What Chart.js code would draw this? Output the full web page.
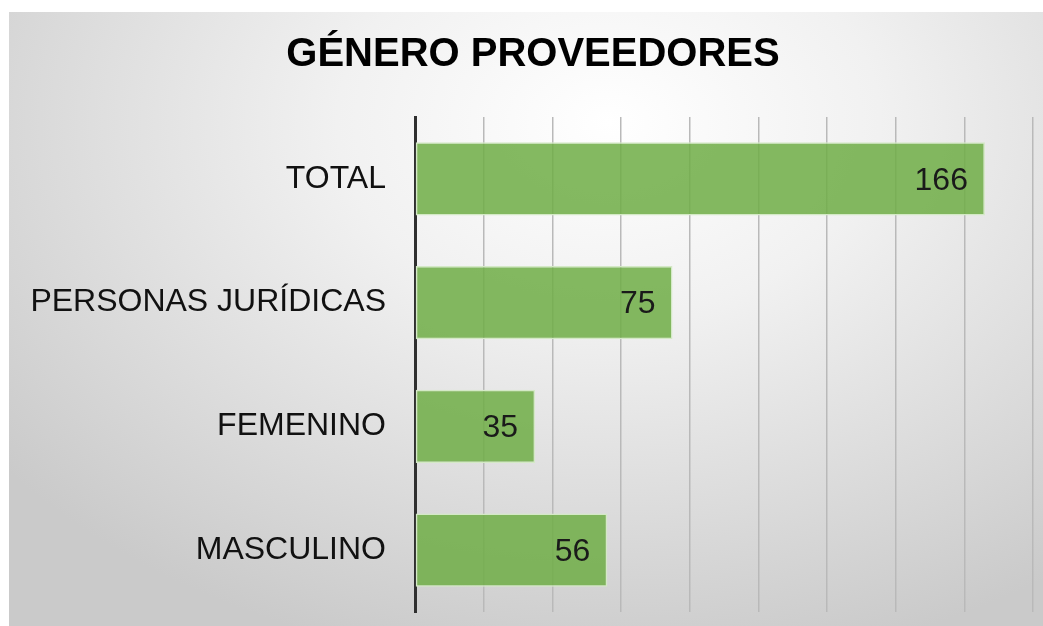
<!DOCTYPE html>
<html>
<head>
<meta charset="utf-8">
<script src="https://cdn.jsdelivr.net/npm/chart.js@4/dist/chart.umd.min.js"></script>
<style>
  html, body { margin: 0; padding: 0; background: #fff; }
  #wrap {
    position: absolute; left: 9px; top: 12px; width: 1034px; height: 614px;
    background: radial-gradient(ellipse 75% 90% at 58% 18%, #ffffff 0%, #f1f1f1 35%, #dcdcdc 70%, #cacaca 100%);
  }
</style>
</head>
<body>
<div id="wrap"><canvas id="chart" width="1034" height="614"></canvas></div>
<script>
/* Género proveedores – horizontal bar */

const TITLE = "GÉNERO PROVEEDORES";
const categories = ["TOTAL", "PERSONAS JURÍDICAS", "FEMENINO", "MASCULINO"];
const values = [166, 75, 35, 56];
const axisMax = 180;
const axisStep = 20;

const FONT = "'Liberation Sans', Arial, sans-serif";

// value labels drawn inside the bar end
const valueLabels = {
  id: "valueLabels",
  afterDatasetsDraw(chart) {
    const ctx = chart.ctx;
    const meta = chart.getDatasetMeta(0);
    ctx.save();
    ctx.font = "32px " + FONT;
    ctx.fillStyle = "#1a1a1a";
    ctx.textAlign = "right";
    ctx.textBaseline = "middle";
    meta.data.forEach((bar, i) => {
      ctx.fillText(String(values[i]), bar.x - 17, bar.y + 2);
    });
    ctx.restore();
  }
};

new Chart(document.getElementById("chart"), {
  type: "bar",
  data: {
    labels: categories,
    datasets: [{
      data: values,
      backgroundColor: "rgba(112,173,71,0.86)",
      borderColor: "#d4e9c6",
      borderWidth: 1.5,
      borderSkipped: false,
      categoryPercentage: 1,
      barPercentage: 0.59
    }]
  },
  options: {
    indexAxis: "y",
    responsive: false,
    animation: false,
    layout: { padding: { left: 24, right: 10, top: 0, bottom: 14 } },
    plugins: {
      legend: { display: false },
      tooltip: { enabled: false },
      title: {
        display: true,
        text: TITLE,
        color: "#000",
        font: { family: FONT, size: 40, weight: "bold" },
        padding: { top: 19, bottom: 38 }
      }
    },
    scales: {
      x: {
        min: 0,
        max: axisMax,
        ticks: { display: false, stepSize: axisStep },
        grid: { color: "#b9b9b9", lineWidth: 1.5, drawTicks: false, tickLength: 0 },
        border: { display: false },
        afterFit(scale) { scale.height = 0; }
      },
      y: {
        ticks: { color: "#111", font: { family: FONT, size: 32 }, padding: 29 },
        grid: { display: false, drawTicks: false, tickLength: 0 },
        border: { display: true, color: "#2f2f2f", width: 3 },
        afterFit(scale) {
          scale.width = 382;
          // labels sit well inside the bands, no extra top/bottom room needed
          scale.paddingTop = 0;
          scale.paddingBottom = 0;
        }
      }
    }
  },
  plugins: [valueLabels]
});
</script>
</body>
</html>
